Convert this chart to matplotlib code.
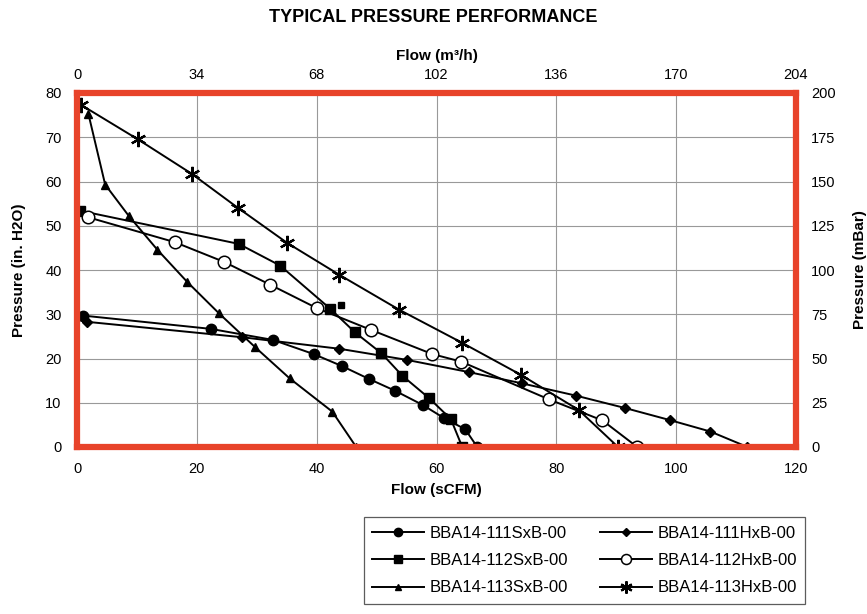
import matplotlib.pyplot as plt

plt.rcParams['font.family'] = ['Liberation Sans', 'DejaVu Sans']

# flow (sCFM) and pressure (in. H2O)
s111_x = [1.0, 22.3, 32.7, 39.5, 44.2, 48.7, 53.1, 57.7, 61.3, 64.8, 66.8]
s111_y = [29.7, 26.7, 24.2, 21.0, 18.3, 15.4, 12.7, 9.5, 6.5, 4.0, 0.0]

h111_x = [1.6, 27.6, 43.8, 55.0, 65.5, 74.2, 83.3, 91.5, 98.9, 105.7, 111.9]
h111_y = [28.3, 24.8, 22.2, 19.7, 16.9, 14.4, 11.6, 8.8, 6.1, 3.5, 0.0]

s112_x = [0.5, 27.0, 33.9, 42.3, 46.4, 50.8, 54.3, 58.8, 62.4, 64.3]
s112_y = [53.4, 45.9, 41.0, 31.2, 25.9, 21.2, 16.1, 11.0, 6.3, 0.0]

h112_x = [1.9, 16.3, 24.6, 32.2, 40.0, 49.0, 59.3, 64.1, 78.7, 87.7, 93.5]
h112_y = [51.9, 46.3, 41.8, 36.7, 31.4, 26.5, 21.0, 19.3, 10.8, 6.0, 0.0]

s113_x = [1.9, 4.7, 8.6, 13.4, 18.4, 23.7, 29.7, 35.5, 42.6, 46.6]
s113_y = [75.3, 59.3, 52.3, 44.6, 37.3, 30.2, 22.6, 15.5, 8.0, 0.0]

h113_x = [0.7, 10.2, 19.2, 26.8, 35.1, 43.8, 53.8, 64.2, 74.1, 83.7, 90.3]
h113_y = [77.3, 69.5, 61.7, 54.1, 46.1, 38.9, 31.0, 23.6, 16.3, 8.4, 0.0]

# odd lone square next to the 112SxB curve
stray_x = [44.1]
stray_y = [32.1]

labels = ['BBA14-111SxB-00', 'BBA14-112SxB-00', 'BBA14-113SxB-00',
          'BBA14-111HxB-00', 'BBA14-112HxB-00', 'BBA14-113HxB-00']

fig = plt.figure(figsize=(8.67, 6.14), dpi=100)
ax = fig.add_axes([77/867, 1-447/614, (796-77)/867, (447-93)/614])

lw = 1.4
ax.plot(s111_x, s111_y, '-o', color='black', lw=lw, markersize=7.5, label=labels[0])
ax.plot(s112_x, s112_y, '-s', color='black', lw=lw, markersize=7, label=labels[1])
ax.plot(s113_x, s113_y, '-^', color='black', lw=lw, markersize=6, label=labels[2])
ax.plot(h111_x, h111_y, '-D', color='black', lw=lw, markersize=5, label=labels[3])
ax.plot(h112_x, h112_y, '-o', color='black', lw=lw, markersize=9,
        markerfacecolor='white', markeredgewidth=1.1, label=labels[4])
ax.plot(h113_x, h113_y, '-', marker=(6, 2, 0), color='black', lw=lw, markersize=11,
        markeredgewidth=1.6, label=labels[5])
ax.plot(stray_x, stray_y, 's', color='black', markersize=4)

ax.set_xlim(0, 120)
ax.set_ylim(0, 80)
ax.set_xticks(range(0, 121, 20))
ax.set_yticks(range(0, 81, 10))
ax.grid(color='#999999', lw=0.8)
ax.set_axisbelow(True)
for sp in ax.spines.values():
    sp.set_color('#e8432a')
    sp.set_linewidth(4.5)
ax.tick_params(length=0, labelsize=10.5, pad=11)

ax.set_xlabel('Flow (sCFM)', fontsize=11, fontweight='bold', labelpad=5)
ax.set_ylabel('Pressure (in. H2O)', fontsize=11, fontweight='bold', labelpad=14)

top = ax.secondary_xaxis('top', functions=(lambda x: x * 1.7, lambda x: x / 1.7))
top.set_xticks(range(0, 205, 34))
top.tick_params(length=0, labelsize=10.5, pad=8)
top.set_xlabel('Flow (m\u00b3/h)', fontsize=11, fontweight='bold', labelpad=6)

right = ax.secondary_yaxis('right', functions=(lambda y: y * 2.5, lambda y: y / 2.5))
right.set_yticks(range(0, 201, 25))
right.tick_params(length=0, labelsize=10.5, pad=11)
right.set_ylabel('Pressure (mBar)', fontsize=11, fontweight='bold', labelpad=12)

for sec in (top, right):
    for sp in sec.spines.values():
        sp.set_visible(False)

fig.text(0.5, 1-18/614, 'TYPICAL PRESSURE PERFORMANCE', ha='center', va='center',
         fontsize=13, fontweight='bold')

handles, labs = ax.get_legend_handles_labels()
leg = fig.legend(handles[:6], labs[:6], loc='center', bbox_to_anchor=(584.5/867, 1-560.5/614),
                 ncol=2, prop={'size': 12}, frameon=True, fancybox=False,
                 edgecolor='#333333', handlelength=3.1, handletextpad=0.35,
                 labelspacing=0.75, columnspacing=1.9, borderpad=0.5, markerscale=0.8)
leg.get_frame().set_linewidth(0.9)

fig.savefig('out.png', dpi=100)
plt.close()
